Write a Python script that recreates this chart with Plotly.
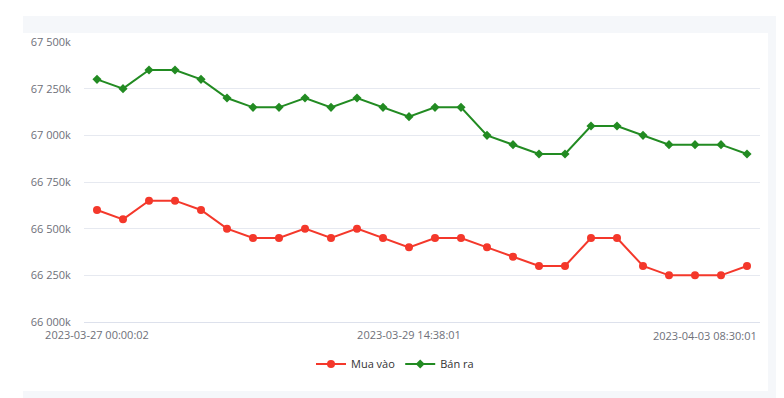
import plotly.graph_objects as go

# Prices in thousands of VND
buy = [66600, 66550, 66650, 66650, 66600, 66500, 66450, 66450, 66500, 66450,
       66500, 66450, 66400, 66450, 66450, 66400, 66350, 66300, 66300, 66450,
       66450, 66300, 66250, 66250, 66250, 66300]
sell = [67300, 67250, 67350, 67350, 67300, 67200, 67150, 67150, 67200, 67150,
        67200, 67150, 67100, 67150, 67150, 67000, 66950, 66900, 66900, 67050,
        67050, 67000, 66950, 66950, 66950, 66900]
x_idx = list(range(len(buy)))
x_tick_idx = [0, 12]
x_tick_labels = ["2023-03-27 00:00:02", "2023-03-29 14:38:01"]
last_label = "2023-04-03 08:30:01"
y_ticks = [66000, 66250, 66500, 66750, 67000, 67250, 67500]
y_tick_labels = ["66 000k", "66 250k", "66 500k", "66 750k", "67 000k", "67 250k", "67 500k"]

RED = "#f4382b"
GREEN = "#228b22"

fig = go.Figure()
fig.add_trace(go.Scatter(
    x=x_idx, y=buy, name="Mua vào", mode="lines+markers",
    line=dict(color=RED, width=2),
    marker=dict(symbol="circle", size=8, color=RED),
))
fig.add_trace(go.Scatter(
    x=x_idx, y=sell, name="Bán ra", mode="lines+markers",
    line=dict(color=GREEN, width=2),
    marker=dict(symbol="diamond", size=7, color=GREEN),
))

# the page body adds an 8px offset; lay out in window coordinates minus 8
OFF = 8
W, H = 784 - OFF, 398 - OFF
L, R, T, B = 84 - OFF, 784 - 760, 42 - OFF, 398 - 322
pw, ph = W - L - R, H - T - B


def px(x):
    return (x - OFF - L) / pw


def py(y):
    return (H - B - (y - OFF)) / ph


shapes = [
    dict(type="rect", xref="paper", yref="paper", layer="below",
         x0=px(23), x1=px(800), y0=py(410), y1=py(16),
         fillcolor="#f5f7fa", line=dict(width=0)),
    dict(type="rect", xref="paper", yref="paper", layer="below",
         x0=px(23), x1=px(768), y0=py(391), y1=py(33),
         fillcolor="#ffffff", line=dict(width=0)),
]

tick_font = dict(family="Open Sans", size=11, color="#6e7079")

fig.update_layout(
    width=W, height=H,
    margin=dict(l=L, r=R, t=T, b=B, pad=0, autoexpand=False),
    paper_bgcolor="#ffffff", plot_bgcolor="rgba(0,0,0,0)",
    showlegend=True,
    legend=dict(orientation="h", x=px(395), xanchor="center", y=py(364), yanchor="middle",
                font=dict(family="Open Sans", size=11, color="#333333"),
                itemwidth=30, bgcolor="rgba(0,0,0,0)"),
    shapes=shapes,
    annotations=[dict(text=last_label, xref="paper", yref="paper", x=px(759), y=py(335),
                      xanchor="right", yanchor="middle", showarrow=False, font=tick_font)],
    xaxis=dict(range=[-0.5, len(buy) - 0.5], tickvals=x_tick_idx, ticktext=x_tick_labels,
               showgrid=False, zeroline=False, showline=True, linecolor="#dde1ec", linewidth=1,
               ticks="outside", ticklen=3, tickcolor="rgba(0,0,0,0)", tickfont=tick_font),
    yaxis=dict(range=[66000, 67500], tickvals=y_ticks, ticktext=y_tick_labels,
               showgrid=True, gridcolor="#e6e9f0", gridwidth=1, zeroline=False, showline=False,
               ticks="outside", ticklen=10, tickcolor="rgba(0,0,0,0)", tickfont=tick_font),
)

fig.write_html("out.html")
